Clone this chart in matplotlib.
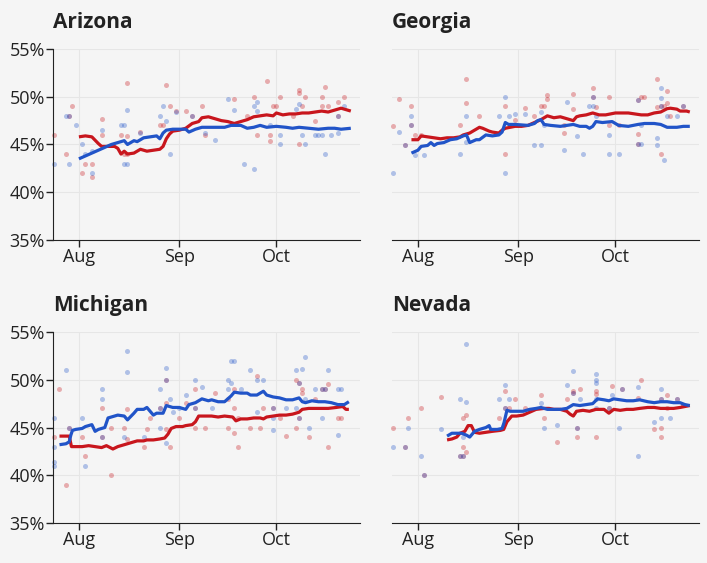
import numpy as np
import matplotlib
matplotlib.use("Agg")
import matplotlib.pyplot as plt

# days are counted from 1 August
month_days = [0, 31, 61]
month_labels = ["Aug", "Sep", "Oct"]
y_ticks = [35, 40, 45, 50, 55]

# ---- Arizona
az_red_line = [(0, 45.8), (2, 45.9), (4, 45.8), (6, 45.1), (7, 44.8), (9, 44.8), (11, 44.8), (12, 44.6),
               (13, 44.0), (14, 44.3), (15, 44.0), (17, 44.1), (19, 44.5), (21, 44.3), (23, 44.4), (25, 44.5),
               (26, 44.8), (27, 45.6), (28, 46.1), (29, 46.4), (31, 46.5), (33, 46.7), (35, 47.2), (37, 47.4),
               (38, 47.8), (40, 47.9), (42, 47.7), (44, 47.5), (46, 47.4), (48, 47.2), (50, 47.4), (52, 47.6),
               (54, 47.9), (56, 48.0), (58, 48.1), (60, 48.0), (61, 48.3), (63, 48.1), (65, 48.2), (67, 48.2),
               (69, 48.3), (71, 48.3), (73, 48.4), (75, 48.5), (77, 48.4), (79, 48.6), (81, 48.8), (83, 48.6),
               (84, 48.5)]
az_blue_line = [(0, 43.5), (2, 43.8), (4, 44.1), (6, 44.4), (8, 44.7), (10, 45.0), (12, 45.2), (14, 45.4),
                (15, 45.0), (17, 45.4), (18, 45.3), (20, 45.7), (22, 45.8), (24, 45.9), (25, 45.6), (26, 46.2),
                (27, 46.5), (29, 46.6), (31, 46.6), (33, 46.6), (34, 46.3), (36, 46.6), (38, 46.8), (40, 46.8),
                (42, 46.8), (45, 46.8), (47, 47.0), (50, 47.0), (52, 46.7), (54, 46.8), (56, 47.0), (58, 46.8),
                (61, 46.9), (64, 46.8), (66, 46.7), (68, 46.8), (71, 46.7), (74, 46.6), (77, 46.7), (79, 46.7),
                (81, 46.6), (84, 46.7)]
az_red_polls = [(-7.7, 46), (-4, 44), (-3, 48), (-2, 49), (1, 42), (2, 43), (4, 43), (4, 41.6), (7, 47.7),
                (7, 46), (13, 46), (14, 44), (15, 44), (15, 51.4), (15, 45.9), (19, 46.3), (25, 47), (26, 47),
                (27, 51.2), (28, 49), (30, 48.5), (33, 48.5), (35, 48), (38, 49), (39, 46), (48, 49.8), (52, 48),
                (54, 50), (55, 46), (58, 51.7), (59, 46), (59, 45.4), (60, 49), (61, 49), (62, 50), (66, 48),
                (68, 50.7), (68, 50.4), (68, 45), (69, 49), (70, 50), (73, 47.5), (75, 50), (75, 49), (76, 51),
                (77, 49), (80, 49.5), (80, 48), (82, 50)]
az_blue_polls = [(-7.7, 43), (-4, 48), (-3, 48), (-3, 43), (-1, 47), (1, 45), (2, 44), (4, 42), (4, 44.3),
                 (7, 46.5), (13, 47), (14, 47), (14, 43), (15, 43), (15, 48.6), (19, 46.2), (25, 48), (26, 49),
                 (27, 47.5), (28, 44), (30, 48.4), (35, 48), (39, 46.2), (42, 45.5), (46, 49.8), (48, 48.6),
                 (51, 43), (54, 42.4), (54, 49), (55, 48.5), (55, 49.5), (59, 47), (62, 46), (62, 45), (67, 48.7),
                 (68, 49.2), (69, 46), (70, 45), (73, 46), (74, 46), (75, 46), (76, 44), (78, 46), (80, 46.2),
                 (80, 48), (82, 49)]

# ---- Georgia
ga_red_line = [(-2, 45.5), (0, 45.5), (1, 45.9), (3, 45.8), (5, 45.7), (7, 45.6), (9, 45.7), (11, 45.7),
               (13, 45.8), (14, 46.0), (16, 46.2), (18, 46.6), (19, 46.8), (20, 46.7), (22, 46.4), (23, 46.3),
               (25, 46.2), (26, 46.5), (27, 46.7), (30, 46.9), (32, 46.9), (34, 47.0), (36, 47.3), (38, 47.6),
               (40, 48.0), (42, 47.8), (44, 47.9), (46, 47.7), (48, 47.5), (49, 47.9), (50, 48.0), (52, 48.1),
               (54, 48.3), (56, 48.1), (58, 48.1), (61, 48.3), (63, 48.3), (65, 48.3), (67, 48.2), (69, 48.1),
               (71, 48.1), (73, 48.3), (75, 48.4), (77, 48.75), (78, 48.8), (80, 48.7), (81, 48.5), (83, 48.5),
               (84, 48.4)]
ga_blue_line = [(-2, 44.1), (0, 44.4), (1, 44.8), (3, 44.9), (4, 45.2), (5, 44.9), (6, 45.1), (8, 45.2),
                (10, 45.5), (12, 45.6), (14, 45.9), (15, 46.0), (16, 45.2), (18, 45.5), (19, 45.5), (21, 46.0),
                (23, 45.9), (25, 46.0), (26, 46.3), (27, 47.3), (28, 47.1), (30, 47.1), (34, 47.0), (36, 47.2),
                (37, 47.5), (38, 47.6), (39, 47.1), (41, 47.0), (44, 46.9), (46, 47.0), (48, 47.1), (50, 46.9),
                (52, 46.9), (53, 46.7), (54, 46.9), (55, 47.4), (57, 47.3), (60, 47.4), (62, 47.0), (65, 46.9),
                (68, 47.1), (70, 47.2), (73, 47.2), (75, 47.1), (77, 46.8), (80, 46.8), (82, 46.9), (84, 46.9)]
ga_red_polls = [(-7.7, 46.9), (-6, 49.8), (-4, 44.9), (-2, 49), (-2, 47), (-1, 46), (1, 46), (13, 47),
                (15, 51.9), (15, 49.3), (19, 48), (27, 49), (27, 44), (30, 47.6), (33, 48.8), (36, 48), (38, 49),
                (39, 49), (40, 50.2), (40, 49.8), (45, 47), (45, 46.2), (48, 50.3), (48, 48.7), (54, 50.9),
                (54, 50), (55, 48.9), (59, 50), (59, 47), (62, 47), (68, 49.7), (68, 46.1), (68, 45), (69, 50),
                (70, 50), (74, 51.9), (74, 48.9), (75, 49), (75, 44), (76, 49), (77, 50.6), (77, 49.3), (78, 48),
                (82, 49)]
ga_blue_polls = [(-7.7, 42), (-6, 46.3), (-4, 44.9), (-2, 48), (-2, 47), (-1, 43.9), (2, 43.9), (13, 44),
                 (15, 48), (15, 45.3), (25, 48), (27, 50), (27, 42), (28, 48), (30, 48.2), (33, 48.2), (36, 44.9),
                 (38, 44.9), (38, 48.4), (39, 47), (45, 44.4), (46, 49.5), (49, 45.9), (51, 44), (53, 49),
                 (54, 50), (54, 49), (55, 48), (59, 46), (59, 44), (62, 44), (68, 49.7), (68, 45), (69, 45),
                 (69, 47), (74, 45.7), (74, 44.9), (75, 50.9), (75, 49.9), (75, 49), (76, 43.4), (77, 48),
                 (80, 48), (82, 49)]

# ---- Michigan
mi_red_line = [(-6, 44.1), (-3, 44.1), (-2.3, 43.0), (-1, 43.0), (1, 43.0), (3, 43.1), (5, 43.0), (7, 42.9),
               (8.5, 43.1), (10.5, 42.75), (12, 43.0), (14, 43.2), (16, 43.4), (18, 43.6), (20, 43.6), (21, 43.7),
               (23, 43.7), (25, 43.8), (26.5, 43.9), (27.5, 44.3), (28.5, 44.9), (30, 45.1), (32, 45.1),
               (33, 45.2), (35, 45.3), (36, 45.6), (37, 46.2), (39, 46.2), (41, 46.2), (43, 46.1), (45, 46.2),
               (47.5, 46.1), (48.5, 45.7), (50, 45.9), (52, 45.9), (54, 46.0), (56, 46.0), (57, 45.9), (58, 46.1),
               (60, 46.2), (62, 46.3), (64, 46.3), (66, 46.4), (68, 46.6), (69, 46.9), (71, 47.0), (74, 47.0),
               (77, 47.0), (79.5, 47.1), (81.5, 47.2), (82.5, 46.9), (83.4, 46.9)]
mi_blue_line = [(-6, 43.2), (-4, 43.3), (-3, 43.5), (-2.5, 44.2), (-2, 44.7), (-1, 44.8), (1, 44.9), (2, 45.1),
                (4, 45.3), (5, 44.6), (6, 44.8), (8, 45.0), (9, 46.0), (11, 46.2), (12, 46.3), (14, 46.2),
                (15, 45.8), (17, 46.5), (18, 46.9), (20, 46.9), (21, 47.1), (23, 46.3), (24, 46.5), (26, 46.5),
                (27, 47.3), (29, 47.1), (31, 47.1), (33, 46.9), (34, 47.4), (36, 47.6), (38, 48.0), (40, 47.8),
                (41, 47.9), (43, 47.7), (45, 47.7), (47, 48.3), (48, 48.7), (50, 48.6), (52, 48.6), (53, 48.4),
                (55, 48.4), (57, 48.8), (58, 48.4), (60, 48.2), (62, 48.1), (64, 47.9), (66, 47.9), (68, 48.1),
                (69, 47.7), (70, 47.6), (72, 47.8), (74, 47.7), (76, 47.7), (78, 47.6), (80, 47.4), (82, 47.4),
                (83.4, 47.7)]
mi_red_polls = [(-7.7, 44), (-6, 49), (-4, 39), (-3, 45), (1, 44), (2, 42), (7, 47), (7, 44), (10, 45), (10, 40),
                (14, 45), (15, 46.9), (15, 43.8), (20, 43), (21, 44.8), (22, 46), (25, 47), (27, 50), (27, 47.6),
                (27, 44.8), (28, 43), (31, 46), (33, 47.6), (36, 49), (36, 47), (36, 45), (39, 45), (42, 48.6),
                (46, 48), (46, 45), (48, 49), (48, 47), (48, 44.4), (49, 46), (49, 43), (53, 45), (55, 50.4),
                (56, 45), (57, 47), (60, 47), (62, 46), (64, 44.1), (67, 50), (67, 45), (68, 49.7), (68, 46),
                (69, 49), (69, 48.6), (71, 44), (73, 48), (75, 49), (76, 49), (77, 49.6), (77, 43), (80, 46),
                (81, 46)]
mi_blue_polls = [(-7.7, 46), (-7.7, 43), (-7.7, 41.4), (-7.7, 41), (-4, 51), (-3, 45), (1, 46), (2, 41), (7, 49),
                 (7, 48), (7, 44), (14, 44), (15, 53), (15, 50.8), (20, 44), (25, 49), (25, 47), (25, 45),
                 (27, 51.2), (27, 50), (27, 43.4), (28, 48), (29, 46.6), (31, 47), (33, 48.4), (36, 50), (36, 47),
                 (38, 49.2), (41, 47), (46, 50), (46, 49), (47, 52), (48, 52), (47, 49.7), (50, 49), (53, 51),
                 (55, 50), (55, 46.6), (57, 50), (60, 46), (60, 44.7), (60, 47), (64, 47), (67, 51), (67, 47),
                 (68, 49.7), (68, 46), (69, 51.1), (70, 52.4), (70, 48), (71, 44.9), (73, 49), (75, 49), (75, 46),
                 (76, 49), (77, 51), (80, 49), (80, 44.2), (81, 49)]

# ---- Nevada
nv_red_line = [(9, 43.7), (10.5, 43.8), (12, 44.0), (13, 44.4), (14.5, 44.6), (15.5, 45.2), (16.5, 45.2),
               (17.5, 44.5), (19, 44.4), (21, 44.5), (23, 44.6), (25.5, 44.7), (26.5, 44.8), (27.5, 45.6),
               (29, 46.2), (30.5, 46.2), (32.5, 46.3), (34.5, 46.6), (36.5, 46.9), (39, 47.0), (40.5, 47.0),
               (42, 46.9), (44, 46.9), (46, 46.7), (47, 46.4), (48, 46.2), (49, 46.7), (51, 46.8), (53, 46.7),
               (55, 46.9), (57.5, 46.9), (59, 46.5), (60.5, 46.9), (62.5, 46.8), (64.5, 46.9), (66.5, 46.9),
               (68.5, 47.0), (71, 47.1), (73, 47.1), (75, 47.0), (77, 47.0), (79, 47.0), (81, 47.1), (82.5, 47.2),
               (84, 47.3)]
nv_blue_line = [(9, 44.1), (10.5, 44.4), (12, 44.4), (13.5, 44.4), (15, 44.2), (16, 44.0), (17.5, 44.6),
                (19, 44.8), (21, 45.0), (22, 45.2), (22.5, 44.8), (24.5, 44.8), (26, 44.9), (26.6, 45.5),
                (27.5, 46.8), (28.5, 46.7), (30.5, 46.7), (32.5, 46.7), (34.5, 46.9), (36.5, 47.0), (38, 47.1),
                (40, 46.9), (42, 46.9), (44, 46.9), (46, 47.0), (48, 47.4), (50, 47.3), (52, 47.4), (54, 47.5),
                (55.5, 48.0), (57.5, 47.9), (59, 47.8), (60.5, 48.0), (62.5, 47.9), (64.5, 47.8), (66.5, 47.8),
                (68.5, 47.9), (71, 47.7), (73, 47.6), (75, 47.7), (77, 47.7), (79, 47.6), (81, 47.6), (82.5, 47.4),
                (84, 47.3)]
nv_red_polls = [(-7.7, 45), (-4, 43), (-3, 46), (1, 47), (2, 40), (7, 48.2), (13, 42), (14, 46), (14, 43),
                (14, 42), (15, 46.3), (15, 42.4), (25, 46), (27, 48.8), (27, 47), (28, 47), (30, 48), (33, 47),
                (38, 48.4), (39, 46), (43, 43.5), (46, 48), (48, 48.6), (48, 48.8), (49, 45), (49, 44), (50, 49),
                (55, 48.8), (55, 48.5), (55, 44), (59, 47), (60, 49.3), (63, 49), (68, 48.1), (69, 50), (73, 44.8),
                (75, 48), (75, 45), (75, 44), (77, 48.4), (77, 47), (80, 48), (82, 47.4)]
nv_blue_polls = [(-7.7, 43), (-4, 43), (-3, 45), (1, 42), (2, 40), (7, 44.8), (13, 48), (13, 42), (14, 42),
                 (14, 44), (15, 53.7), (15, 47.7), (25, 48), (27, 49.4), (27, 47), (28, 48), (38, 47.6), (39, 45),
                 (43, 45.3), (46, 49.4), (48, 50.9), (48, 48.6), (49, 45), (50, 48), (55, 50.6), (55, 50),
                 (55, 49.7), (55, 48), (55, 47), (59, 47), (60, 48.4), (62, 45), (63, 49), (68, 49.2), (68, 42),
                 (73, 45.6), (75, 49), (75, 48), (75, 46), (78, 46), (80, 48), (82, 47.4)]

states = ["Arizona", "Georgia", "Michigan", "Nevada"]
state_data = {
    "Arizona": (az_red_line, az_blue_line, az_red_polls, az_blue_polls),
    "Georgia": (ga_red_line, ga_blue_line, ga_red_polls, ga_blue_polls),
    "Michigan": (mi_red_line, mi_blue_line, mi_red_polls, mi_blue_polls),
    "Nevada": (nv_red_line, nv_blue_line, nv_red_polls, nv_blue_polls),
}

RED = "#c8161d"
BLUE = "#2154c8"
BG = "#f5f5f5"
INK = "#222222"

plt.rcParams["font.family"] = ["Open Sans", "DejaVu Sans"]

fig = plt.figure(figsize=(7.07, 5.63), dpi=100, facecolor=BG)

# [left, bottom, width, height] in figure fractions
positions = [
    [0.075, 0.5737, 0.434, 0.3393],
    [0.5545, 0.5737, 0.434, 0.3393],
    [0.075, 0.0710, 0.434, 0.3393],
    [0.5545, 0.0710, 0.434, 0.3393],
]

for i, state in enumerate(states):
    ax = fig.add_axes(positions[i])
    ax.set_facecolor(BG)
    red_line, blue_line, red_polls, blue_polls = state_data[state]

    rp = np.array(red_polls)
    bp = np.array(blue_polls)
    ax.scatter(rp[:, 0], rp[:, 1], s=13, color=RED, alpha=0.33, linewidths=0, clip_on=False, zorder=2)
    ax.scatter(bp[:, 0], bp[:, 1], s=13, color=BLUE, alpha=0.33, linewidths=0, clip_on=False, zorder=2)

    rl = np.array(red_line)
    bl = np.array(blue_line)
    ax.plot(rl[:, 0], rl[:, 1], color=RED, lw=2.3, zorder=3, solid_capstyle="butt")
    ax.plot(bl[:, 0], bl[:, 1], color=BLUE, lw=2.3, zorder=3, solid_capstyle="butt")

    ax.set_xlim(-8, 86.8)
    ax.set_ylim(35, 55)
    ax.set_xticks(month_days)
    ax.set_xticklabels(month_labels)
    ax.set_yticks(y_ticks)
    ax.set_yticklabels([f"{v}%" for v in y_ticks])
    ax.grid(True, color="#e6e6e6", lw=0.8, zorder=0)
    ax.set_axisbelow(True)

    for side in ["top", "right"]:
        ax.spines[side].set_visible(False)
    ax.spines["bottom"].set_color(INK)
    ax.spines["left"].set_color(INK)
    ax.tick_params(axis="both", colors=INK, labelsize=13, length=5, width=1)
    ax.tick_params(axis="x", pad=1)
    ax.tick_params(axis="y", pad=1)

    if i % 2 == 1:
        ax.spines["left"].set_visible(False)
        ax.tick_params(axis="y", length=0, labelleft=False)

    ax.set_title(state, loc="left", fontsize=15, fontweight="bold", color=INK, pad=15)

fig.savefig("out.png", dpi=100, facecolor=BG)
